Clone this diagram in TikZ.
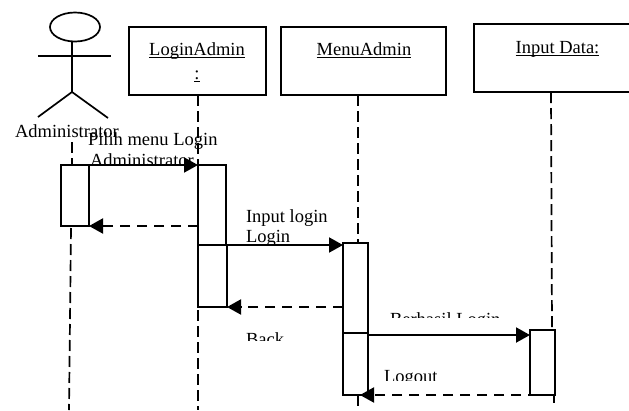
\documentclass[tikz,border=0pt]{standalone}
\usepackage{fontspec}
\setmainfont{Liberation Serif}
\usetikzlibrary{arrows.meta,shapes.geometric}
\tikzset{
  x=1pt,y=-1pt,
  every node/.style={inner sep=0pt,outer sep=0pt,font=\fontsize{18.5}{20}\selectfont},
  lbl/.style={anchor=base west},
  ctr/.style={anchor=base},
  objbox/.style={draw,line width=1.7pt,anchor=north west},
  actbox/.style={draw,line width=1.6pt,anchor=north west,fill=white},
  life/.style={line width=1.7pt,dash pattern=on 11pt off 5pt},
  figure/.style={line width=1.7pt},
  call/.style={line width=2pt,-{Triangle[length=14pt,width=15pt]}},
  ret/.style={line width=2pt,dash pattern=on 10pt off 7pt,-{Triangle[length=14pt,width=15pt]}},
}
\newcommand{\boxat}[6]{\node[#1,minimum width=#5 pt,minimum height=#6 pt] (#2) at (#3,#4) {};}
\newcommand{\ulx}[1]{\setbox0\hbox{#1}\rlap{\rule[-2.6pt]{\wd0}{1pt}}\box0}
\begin{document}
\begin{tikzpicture}
\useasboundingbox (0,0) rectangle (629,410);
\clip (0,0) rectangle (629,410);
% free lifeline ends
\coordinate (actorTop) at (72,142);
\coordinate (actorEnd) at (69,410);
\coordinate (loginEnd) at (198,410);
\coordinate (menuEnd) at (358,410);
\coordinate (inputEnd) at (554,403);
% actor
\node[draw,ellipse,figure,minimum width=50pt,minimum height=29pt] (head) at (75,27) {};
\coordinate (hip) at (72,92);
\coordinate (armL) at (38,56);
\coordinate (armR) at (111,56);
\coordinate (legL) at (38,117);
\coordinate (legR) at (108,118);
\draw[figure] (head.south -| hip) -- (hip);
\draw[figure] (armL) -- (armR);
\draw[figure] (legL) -- (hip) -- (legR);
% object boxes
\boxat{objbox}{login}{129}{27}{137}{68}
\boxat{objbox}{menu}{281}{27}{165}{68}
\boxat{objbox}{input}{474}{24}{170}{68}
\node[ctr] (loginT) at (197,55) {\ulx{LoginAdmin}};
\node[ctr] (loginC) at (197,79) {\ulx{:}};
\node[ctr] (menuT) at (364,55) {\ulx{MenuAdmin}};
\node[ctr] (inputT) at (557.5,53) {\ulx{Input Data:}};
% activation boxes
\boxat{actbox}{a1}{61}{165}{28}{61}
\boxat{actbox}{l1}{198}{165}{28}{80}
\boxat{actbox}{l2}{198}{245}{29}{62}
\boxat{actbox}{m1}{343}{243}{25}{90}
\boxat{actbox}{m2}{343}{333}{25}{62}
\boxat{actbox}{i1}{530}{330}{25}{65}
% lifelines
\draw[life] (actorTop) -- (actorTop |- a1.north);
\draw[life] (71,228) -- (actorEnd);
\draw[life] (login.south -| l1.west) -- (l1.north west);
\draw[life] (l2.south west) ++(0,3) -- (loginEnd);
\draw[life] (menu.south -| menuEnd) -- (m1.north -| menuEnd);
\draw[life] (m2.south -| menuEnd) -- (menuEnd);
\draw[life] (input.south -| 551,0) -- (i1.north -| 552,0);
\draw[life] (i1.south -| inputEnd) -- (inputEnd);
% labels
\node[lbl] (admin) at (15,137) {Administrator};
\node[lbl] (pilih) at (88,145) {Pilih menu Login};
\begin{scope}
\clip (80,150) rectangle (240,165);
\node[lbl] (adm2) at (90,166) {Administrator};
\end{scope}
\node[lbl] (inlog) at (246,222) {Input login};
\node[lbl] (loglbl) at (246,242) {Login};
\begin{scope}
\clip (240,320) rectangle (330,340);
\node[lbl] (back) at (246,345) {Back};
\end{scope}
\begin{scope}
\clip (380,305) rectangle (510,317);
\node[lbl] (berhasil) at (390,325) {Berhasil Login};
\end{scope}
\begin{scope}
\clip (375,365) rectangle (450,380);
\node[lbl] (logout) at (384,382) {Logout};
\end{scope}
% messages
\draw[call] (a1.north east) -- (l1.north west);
\draw[ret] (l1.west |- a1.south) -- (a1.south east);
\draw[call] (l2.north east) -- (m1.west |- l2.north);
\draw[ret] (m1.west |- l2.south) -- (l2.south east);
\draw[call] (m2.east |- 0,335) -- (i1.west |- 0,335);
\draw[ret] (i1.south east) -- (360,395);
\end{tikzpicture}
\end{document}
